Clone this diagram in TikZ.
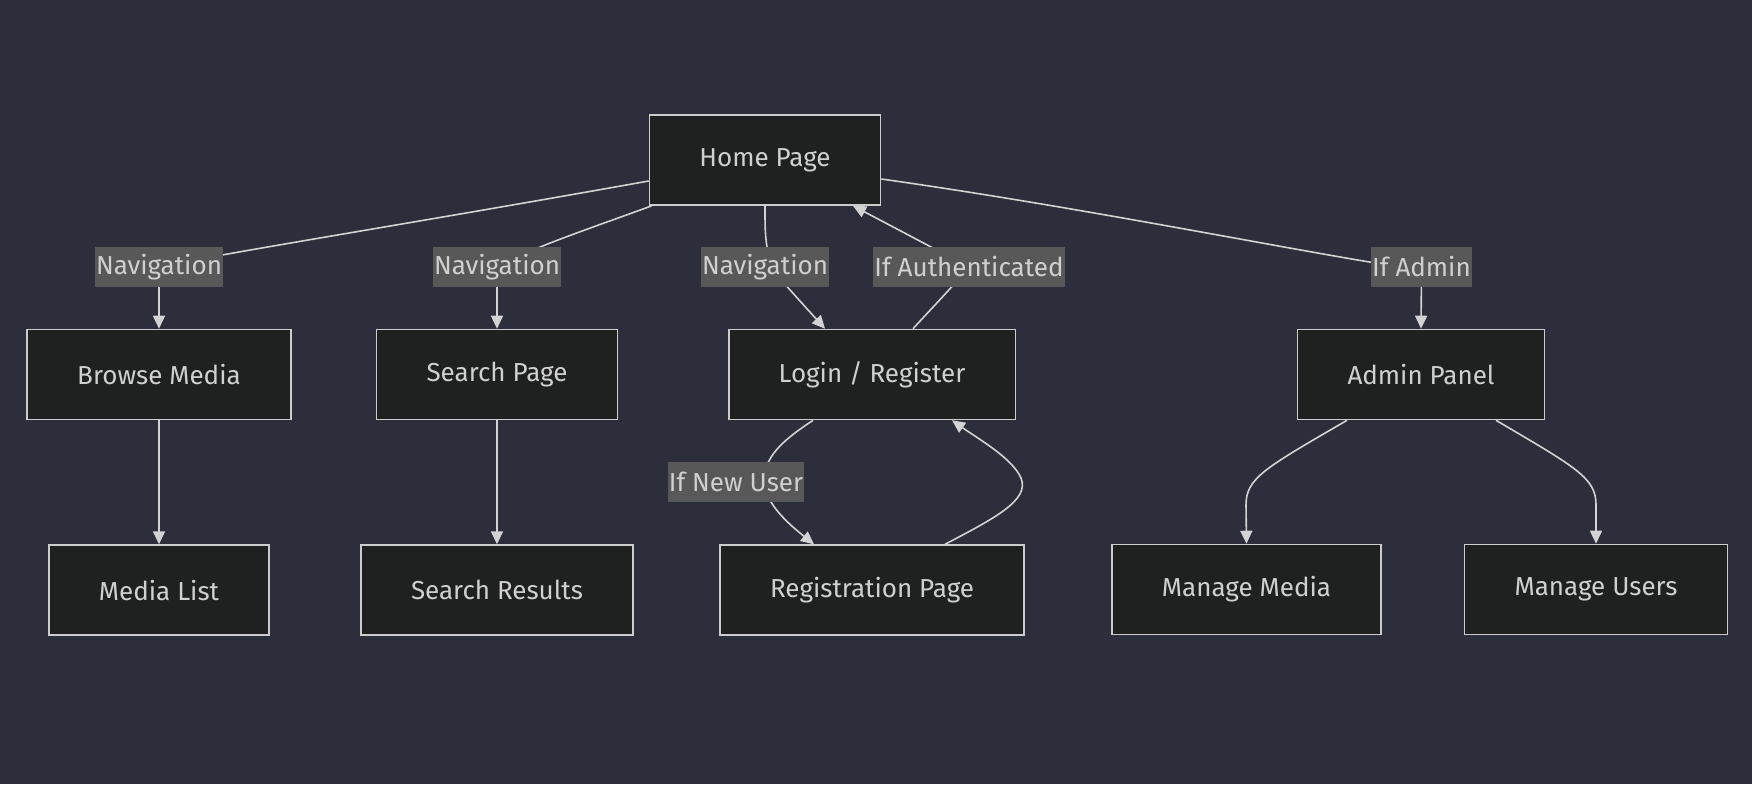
\documentclass[tikz,border=0pt]{standalone}
\usepackage{fontspec}
\setmainfont{Fira Sans}
\usepackage{tikz}
\usetikzlibrary{arrows.meta, positioning}
\definecolor{darkbg}{RGB}{44, 47, 59}
\definecolor{nodefill}{RGB}{31, 32, 32}
\definecolor{nodeborder}{RGB}{204, 204, 204}
\definecolor{textgray}{RGB}{208, 208, 208}
\definecolor{labelbg}{RGB}{88, 88, 88}
\definecolor{linegray}{RGB}{211, 211, 211}

\begin{document}
\begin{tikzpicture}[
    x=1pt, y=-1pt,
    page/.style={rectangle, draw=nodeborder, fill=nodefill, text=textgray, line width=1.6pt, minimum height=90pt, inner xsep=50pt, font=\fontsize{26}{31}\selectfont},
    edgelabel/.style={rectangle, fill=labelbg, text=textgray, inner xsep=1pt, inner ysep=0pt, minimum height=40pt, font=\fontsize{26}{31}\selectfont},
    link/.style={draw=linegray, line width=1.6pt},
    flow/.style={link, -{Triangle[length=13pt, width=12pt]}}
]

    % Background
    \fill [darkbg] (0,0) rectangle (1752,784);

    % Pages
    \node (home) [page] at (765,160) {Home Page};
    \node (browse) [page] at (159,374.5) {Browse Media};
    \node (search) [page] at (497,374.5) {Search Page};
    \node (login) [page] at (872,374.5) {Login / Register};
    \node (admin) [page] at (1421,374.5) {Admin Panel};

    \node (medialist) [page, below=124pt of browse] {Media List};
    \node (results) [page, below=124pt of search] {Search Results};
    \node (regpage) [page, below=124pt of login] {Registration Page};
    \node (managemedia) [page] at (1246.5,589.5) {Manage Media};
    \node (manageusers) [page] at (1596,589.5) {Manage Users};

    % Navigation from Home
    \draw [flow] ([yshift=-21pt]home.west) .. controls (420,222) and (230,252) .. (159,267) node [edgelabel] (lb_nav1) {Navigation} -- (browse.north);
    \draw [flow] ([xshift=3pt]home.south west) .. controls (600,225) and (530,248) .. (497,267) node [edgelabel] (lb_nav2) {Navigation} -- (search.north);
    \draw [flow] (home.south) .. controls (765,235) .. (770,267) node [edgelabel, xshift=-5pt] (lb_nav3) {Navigation} .. controls (790,290) .. ([xshift=-47pt]login.north);
    \draw [flow] ([yshift=-19pt]home.east) .. controls (1100,210) and (1330,258) .. (1421.5,270) node [edgelabel, yshift=3pt] (lb_admin) {If Admin} -- (admin.north);

    % Login flow
    \draw [flow] ([xshift=41pt]login.north) .. controls (932,308) and (955,284) .. (969,267) node [edgelabel] (lb_auth) {If Authenticated} -- ([xshift=88pt]home.south);
    \draw [flow] ([xshift=-59pt]login.south) .. controls (780,442) and (764,458) .. (764,482) node [edgelabel, xshift=-28pt] (lb_new) {If New User} .. controls (766,505) and (790,525) .. ([xshift=-58pt]regpage.north);
    \draw [flow] ([xshift=73pt]regpage.north) .. controls (995,518) and (1030,500) .. (1021,478) .. controls (1012,458) and (980,440) .. ([xshift=80pt]login.south);

    % Lists and results
    \draw [flow] (browse) -- (medialist);
    \draw [flow] (search) -- (results);

    % Admin tools
    \draw [flow] ([xshift=-74pt]admin.south) .. controls (1265,468) and (1246,478) .. (1246,505) -- (managemedia.north);
    \draw [flow] ([xshift=75pt]admin.south) .. controls (1577,468) and (1596,478) .. (1596,505) -- (manageusers.north);

\end{tikzpicture}
\end{document}
